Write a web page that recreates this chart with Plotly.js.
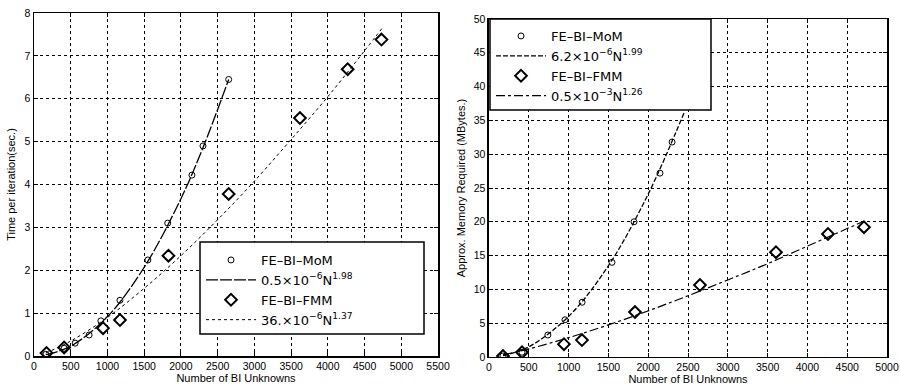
<!DOCTYPE html>
<html>
<head>
<meta charset="utf-8">
<script src="https://cdn.plot.ly/plotly-3.0.1.min.js"></script>
<style>html,body{margin:0;padding:0;background:#fff;}#chart{width:900px;height:392px;}</style>
</head>
<body>
<div id="chart"></div>
<script>
// ---- Left panel: time per iteration ----
const leftMomN = [160, 410, 560, 750, 910, 1170, 1550, 1820, 2150, 2300, 2650];
const leftMomT = [0.04, 0.18, 0.3, 0.49, 0.82, 1.3, 2.24, 3.1, 4.22, 4.9, 6.45];
const leftFmmN = [170, 410, 940, 1170, 1830, 2650, 3620, 4270, 4730];
const leftFmmT = [0.07, 0.2, 0.65, 0.84, 2.34, 3.78, 5.55, 6.69, 7.38];
const leftMomFitN = [160, 500, 1000, 1500, 2000, 2300, 2650];
const leftMomFitT = [0.03, 0.23, 0.92, 2.07, 3.67, 4.86, 6.45];
const leftFmmFitN = [160, 500, 1000, 1500, 2000, 2500, 3000, 3500, 4000, 4500, 4750];
const leftFmmFitT = [0.07, 0.35, 0.9, 1.58, 2.34, 3.18, 4.08, 5.05, 6.05, 7.12, 7.67];

// ---- Right panel: memory ----
const rightMomN = [176, 415, 740, 955, 1170, 1545, 1822, 2148, 2300];
const rightMomM = [0.15, 0.7, 3.25, 5.5, 8.1, 14.0, 20.0, 27.2, 31.8];
const rightFmmN = [176, 415, 942, 1168, 1834, 2650, 3605, 4258, 4710];
const rightFmmM = [0.15, 0.7, 1.9, 2.5, 6.65, 10.65, 15.5, 18.2, 19.2];
const rightMomFitN = [176, 500, 1000, 1500, 2000, 2460];
const rightMomFitM = [0.19, 1.5, 6.0, 13.5, 24.1, 36.4];
const rightFmmFitN = [176, 500, 1000, 1500, 2000, 2500, 3000, 3500, 4000, 4500, 4690];
const rightFmmFitM = [0.32, 1.19, 2.86, 4.75, 6.83, 9.06, 11.4, 13.8, 16.4, 19.0, 20.0];

const leftNames = ['FE\u2013BI\u2013MoM', '0.5\u00d710<sup>\u22126</sup>N<sup>1.98</sup>',
                   'FE\u2013BI\u2013FMM', '36.\u00d710<sup>\u22126</sup>N<sup>1.37</sup>'];
const rightNames = ['FE\u2013BI\u2013MoM', '6.2\u00d710<sup>\u22126</sup>N<sup>1.99</sup>',
                    'FE\u2013BI\u2013FMM', '0.5\u00d710<sup>\u22123</sup>N<sup>1.26</sup>'];

const momMarker = {symbol: 'circle-open', size: 6, color: '#000', line: {width: 1, color: '#000'}};
const fmmMarker = {symbol: 'diamond-open', size: 9, color: '#000', line: {width: 2, color: '#000'}};

const traces = [
  {x: leftMomN, y: leftMomT, mode: 'markers', marker: momMarker, name: leftNames[0], xaxis: 'x', yaxis: 'y', legend: 'legend'},
  {x: leftMomFitN, y: leftMomFitT, mode: 'lines', line: {color: '#000', width: 1.3, shape: 'spline', dash: '12px,2px'}, name: leftNames[1], xaxis: 'x', yaxis: 'y', legend: 'legend'},
  {x: leftFmmN, y: leftFmmT, mode: 'markers', marker: fmmMarker, name: leftNames[2], xaxis: 'x', yaxis: 'y', legend: 'legend'},
  {x: leftFmmFitN, y: leftFmmFitT, mode: 'lines', line: {color: '#000', width: 1, shape: 'spline', dash: 'dot'}, name: leftNames[3], xaxis: 'x', yaxis: 'y', legend: 'legend'},

  {x: rightMomN, y: rightMomM, mode: 'markers', marker: momMarker, name: rightNames[0], xaxis: 'x2', yaxis: 'y2', legend: 'legend2'},
  {x: rightMomFitN, y: rightMomFitM, mode: 'lines', line: {color: '#000', width: 1.3, shape: 'spline', dash: '5px,2px'}, name: rightNames[1], xaxis: 'x2', yaxis: 'y2', legend: 'legend2'},
  {x: rightFmmN, y: rightFmmM, mode: 'markers', marker: fmmMarker, name: rightNames[2], xaxis: 'x2', yaxis: 'y2', legend: 'legend2'},
  {x: rightFmmFitN, y: rightFmmFitM, mode: 'lines', line: {color: '#000', width: 1.2, shape: 'spline', dash: 'dashdot'}, name: rightNames[3], xaxis: 'x2', yaxis: 'y2', legend: 'legend2'}
];

const tickFont = {family: 'Liberation Sans, Arial, sans-serif', size: 10.5, color: '#000'};
const axisCommon = {
  showline: true, linecolor: '#000', linewidth: 1.5, mirror: 'allticks',
  ticks: 'inside', ticklen: 4, tickcolor: '#000', tickwidth: 1,
  showgrid: true, gridcolor: '#000', gridwidth: 1, griddash: 'dot',
  zeroline: false, tickfont: tickFont, fixedrange: true
};
const titleFont = {family: 'Liberation Sans, Arial, sans-serif', size: 11, color: '#000'};
const legendFont = {family: 'DejaVu Sans, sans-serif', size: 13, color: '#000'};

const layout = {
  width: 900, height: 392,
  margin: {l: 0, r: 0, t: 0, b: 0},
  paper_bgcolor: '#fff', plot_bgcolor: '#fff',
  showlegend: true,
  xaxis: Object.assign({}, axisCommon, {domain: [0.0378, 0.4867], range: [0, 5500], dtick: 500, tick0: 0,
    title: {text: 'Number of BI Unknowns', font: titleFont, standoff: 3}, anchor: 'y'}),
  yaxis: Object.assign({}, axisCommon, {domain: [0.0918, 0.9668], range: [0, 8], dtick: 1, tick0: 0,
    title: {text: 'Time per iteration(sec.)', font: titleFont, standoff: 6}, anchor: 'x'}),
  xaxis2: Object.assign({}, axisCommon, {domain: [0.5433, 0.9856], range: [0, 5000], dtick: 500, tick0: 0,
    title: {text: 'Number of BI Unknowns', font: titleFont, standoff: 3}, anchor: 'y2'}),
  yaxis2: Object.assign({}, axisCommon, {domain: [0.0893, 0.9515], range: [0, 50], dtick: 5, tick0: 0,
    title: {text: 'Approx. Memory Required (MBytes.)', font: titleFont, standoff: 6}, anchor: 'x2'}),
  shapes: [
    {type: 'rect', xref: 'paper', yref: 'paper', x0: 200/900, x1: 424/900, y0: 1 - 334/392, y1: 1 - 242/392,
     fillcolor: '#fff', line: {color: '#000', width: 1.5}, layer: 'above'},
    {type: 'rect', xref: 'paper', yref: 'paper', x0: 490/900, x1: 711/900, y0: 1 - 110/392, y1: 1 - 19/392,
     fillcolor: '#fff', line: {color: '#000', width: 1.5}, layer: 'above'}
  ],
  legend: {x: 201/900, y: 1 - 245/392, xanchor: 'left', yanchor: 'top', bgcolor: 'rgba(0,0,0,0)', borderwidth: 0,
    font: legendFont, itemwidth: 50, tracegroupgap: 0, traceorder: 'normal'},
  legend2: {x: 491/900, y: 1 - 21/392, xanchor: 'left', yanchor: 'top', bgcolor: 'rgba(0,0,0,0)', borderwidth: 0,
    font: legendFont, itemwidth: 50, tracegroupgap: 0, traceorder: 'normal'}
};

Plotly.newPlot('chart', traces, layout, {staticPlot: true, displayModeBar: false});
</script>
</body>
</html>
